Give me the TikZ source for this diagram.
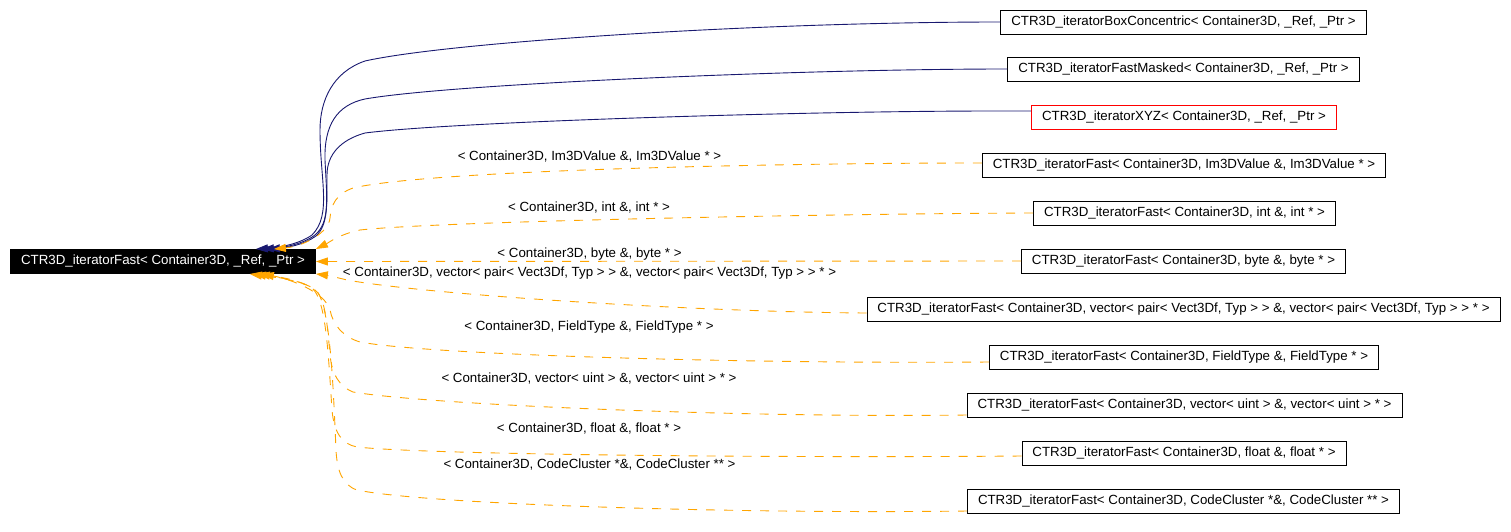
\documentclass[tikz,border=0pt]{standalone}
\usepackage{fontspec}
\setmainfont{Liberation Sans}
\usetikzlibrary{arrows.meta}
\definecolor{edgeblue}{HTML}{191970}
\definecolor{edgeorange}{HTML}{FFA500}
\tikzset{
  cls/.style={draw=black, line width=0.9pt, inner xsep=10.5pt, inner ysep=0pt, minimum height=24pt, font=\fontsize{13.3}{16}\selectfont},
  mainbox/.style={cls, fill=black, text=white},
  redbox/.style={cls, draw=red},
  lbl/.style={inner sep=0pt, font=\fontsize{13.3}{16}\selectfont},
  inh/.style={draw=edgeblue, line width=0.9pt, -{Triangle[length=12pt,width=8pt]}},
  tmpl/.style={draw=edgeorange, line width=0.9pt, dash pattern=on 9pt off 9pt, -{Triangle[length=12pt,width=8pt,fill=edgeorange]}},
}
\begin{document}
\begin{tikzpicture}[x=1pt,y=-1pt]
\useasboundingbox (0,0) rectangle (1511,532);
% nodes
\node[mainbox] (main) at (163,261.5) {CTR3D\_iteratorFast< Container3D, \_Ref, \_Ptr >};
\node[cls] (b1) at (1183.5,22) {CTR3D\_iteratorBoxConcentric< Container3D, \_Ref, \_Ptr >};
\node[cls] (b2) at (1183.5,69) {CTR3D\_iteratorFastMasked< Container3D, \_Ref, \_Ptr >};
\node[redbox] (b3) at (1184,117) {CTR3D\_iteratorXYZ< Container3D, \_Ref, \_Ptr >};
\node[cls] (b4) at (1184,165) {CTR3D\_iteratorFast< Container3D, Im3DValue \&, Im3DValue * >};
\node[cls] (b5) at (1184.5,213) {CTR3D\_iteratorFast< Container3D, int \&, int * >};
\node[cls] (b6) at (1183.5,261) {CTR3D\_iteratorFast< Container3D, byte \&, byte * >};
\node[cls] (b7) at (1183.5,309) {CTR3D\_iteratorFast< Container3D, vector< pair< Vect3Df, Typ > > \&, vector< pair< Vect3Df, Typ > > * >};
\node[cls] (b8) at (1184,357.5) {CTR3D\_iteratorFast< Container3D, FieldType \&, FieldType * >};
\node[cls] (b9) at (1184.5,405) {CTR3D\_iteratorFast< Container3D, vector< uint > \&, vector< uint > * >};
\node[cls] (b10) at (1184,453) {CTR3D\_iteratorFast< Container3D, float \&, float * >};
\node[cls] (b11) at (1183.5,501) {CTR3D\_iteratorFast< Container3D, CodeCluster *\&, CodeCluster ** >};
% labels
\node[lbl] (l4) at (589.5,157) {< Container3D, Im3DValue \&, Im3DValue * >};
\node[lbl] (l5) at (589,208) {< Container3D, int \&, int * >};
\node[lbl] (l6) at (589.5,254) {< Container3D, byte \&, byte * >};
\node[lbl] (l7) at (589.5,273) {< Container3D, vector< pair< Vect3Df, Typ > > \&, vector< pair< Vect3Df, Typ > > * >};
\node[lbl] (l8) at (589,327) {< Container3D, FieldType \&, FieldType * >};
\node[lbl] (l9) at (589,379) {< Container3D, vector< uint > \&, vector< uint > * >};
\node[lbl] (l10) at (589,429) {< Container3D, float \&, float * >};
\node[lbl] (l11) at (589.5,465) {< Container3D, CodeCluster *\&, CodeCluster ** >};
% inheritance edges
\draw[inh] (b1.west) .. controls (760,22) and (450,42) .. (365,61)
  .. controls (333,72) and (320,100) .. (320,130)
  .. controls (320,180) and (332,215) .. (312,235)
  .. controls (298,245) and (275,248) .. ([xshift=-60pt]main.north east);
\draw[inh] (b2.west) .. controls (800,69) and (450,84) .. (365,99)
  .. controls (337,105) and (324,125) .. (325,160)
  .. controls (327,200) and (330,222) .. (315,235)
  .. controls (302,245) and (280,248) .. ([xshift=-54pt]main.north east);
\draw[inh] ([yshift=6pt]b3.west) -- (995,111) .. controls (800,111) and (450,122) .. (365,133)
  .. controls (340,140) and (327,155) .. (327,175)
  .. controls (327,205) and (328,225) .. (316,236)
  .. controls (304,245) and (285,248) .. ([xshift=-48pt]main.north east);
% template edges
\draw[tmpl] ([yshift=2pt]b4.west) .. controls (780,163) and (430,170) .. (353,188)
  .. controls (336,194) and (331,205) .. (330,218)
  .. controls (329,232) and (305,246) .. ([xshift=-42pt]main.north east);
\draw[tmpl] (b5.west) .. controls (800,214) and (430,222) .. (360,230)
  .. controls (340,234) and (328,243) .. (main.north east);
\draw[tmpl] (b6.west) -- (main.east);
\draw[tmpl] ([yshift=-4pt]b7.west) .. controls (700,312) and (430,295) .. (347,280)
  .. controls (335,277) and (325,275) .. (main.south east);
\draw[tmpl] ([yshift=-4.5pt]b8.west) .. controls (750,364) and (430,355) .. (360,342)
  .. controls (343,337) and (333,325) .. (330,310)
  .. controls (325,292) and (290,279) .. ([xshift=-54pt]main.south east);
\draw[tmpl] ([yshift=-10pt]b9.west) .. controls (750,418) and (430,405) .. (353,392)
  .. controls (340,387) and (332,375) .. (330,355)
  .. controls (327,320) and (325,297) .. (314,289)
  .. controls (300,280) and (280,277) .. ([xshift=-58pt]main.south east);
\draw[tmpl] ([yshift=-3pt]b10.west) .. controls (800,458) and (430,455) .. (357,447)
  .. controls (342,444) and (334,433) .. (332,410)
  .. controls (328,350) and (326,300) .. (312,288)
  .. controls (300,280) and (275,277) .. ([xshift=-62pt]main.south east);
\draw[tmpl] ([yshift=-10pt]b11.west) .. controls (750,514) and (430,505) .. (357,490)
  .. controls (342,485) and (337,470) .. (336,450)
  .. controls (333,380) and (330,305) .. (316,290)
  .. controls (302,280) and (272,277) .. ([xshift=-66pt]main.south east);
\end{tikzpicture}
\end{document}
